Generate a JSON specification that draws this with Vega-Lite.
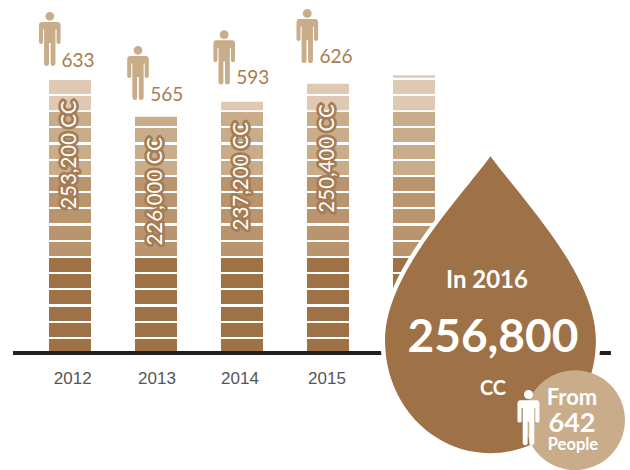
{"$schema":"https://vega.github.io/schema/vega-lite/v6.json","width":630,"height":470,"padding":0,"autosize":"none","background":"white",
"config":{"view":{"stroke":null},"style":{
"person":{"shape":"M-0.165,-0.84 A0.165,0.165 0 1 1 0.165,-0.84 A0.165,0.165 0 1 1 -0.165,-0.84 Z M-0.30,-0.63 L0.30,-0.63 Q0.40,-0.63 0.40,-0.50 L0.40,0.12 Q0.40,0.18 0.32,0.18 Q0.26,0.18 0.25,0.12 L0.25,-0.35 L0.21,-0.35 L0.21,0.90 Q0.21,1 0.11,1 Q0.03,1 0.03,0.90 L0.03,0.15 L-0.03,0.15 L-0.03,0.90 Q-0.03,1 -0.11,1 Q-0.21,1 -0.21,0.90 L-0.21,-0.35 L-0.25,-0.35 L-0.25,0.12 Q-0.26,0.18 -0.32,0.18 Q-0.40,0.18 -0.40,0.12 L-0.40,-0.50 Q-0.40,-0.63 -0.30,-0.63 Z"},
"drop":{"shape":"M0,-1 C-0.22,-0.70 -0.71,-0.20 -0.71,0.24 C-0.71,0.67 -0.39,1 0,1 C0.39,1 0.71,0.67 0.71,0.24 C0.71,-0.20 0.22,-0.70 0,-1 Z"}
}},
"datasets":{
"years":[{"year":2012,"cc":253200,"donors":633,"cc_label":"253,200 CC","tick":"2012"},{"year":2013,"cc":226000,"donors":565,"cc_label":"226,000 CC","tick":"2013"},{"year":2014,"cc":237200,"donors":593,"cc_label":"237,200 CC","tick":"2014"},{"year":2015,"cc":250400,"donors":626,"cc_label":"250,400 CC","tick":"2015"}],
"latest":[{"year":2016,"cc":256800,"donors":642,"cc_label":"256,800"}],
"blocks":[
{"year":2012,"low":242800,"high":253200,"shade":"a"},{"year":2012,"low":230900,"high":241300,"shade":"a"},{"year":2012,"low":219100,"high":229500,"shade":"b"},{"year":2012,"low":207300,"high":217700,"shade":"b"},{"year":2012,"low":194700,"high":205100,"shade":"b"},{"year":2012,"low":182800,"high":193200,"shade":"b"},{"year":2012,"low":171000,"high":181400,"shade":"c"},{"year":2012,"low":159100,"high":169500,"shade":"c"},{"year":2012,"low":147300,"high":157700,"shade":"c"},{"year":2012,"low":134700,"high":145100,"shade":"c"},{"year":2012,"low":122800,"high":133200,"shade":"c"},{"year":2012,"low":111000,"high":121400,"shade":"d"},{"year":2012,"low":99100,"high":109500,"shade":"d"},{"year":2012,"low":87300,"high":97700,"shade":"d"},{"year":2012,"low":74700,"high":85100,"shade":"d"},{"year":2012,"low":62800,"high":73200,"shade":"d"},{"year":2012,"low":51000,"high":61400,"shade":"d"},
{"year":2013,"low":219100,"high":226000,"shade":"b"},{"year":2013,"low":207300,"high":217700,"shade":"b"},{"year":2013,"low":194700,"high":205100,"shade":"b"},{"year":2013,"low":182800,"high":193200,"shade":"b"},{"year":2013,"low":171000,"high":181400,"shade":"c"},{"year":2013,"low":159100,"high":169500,"shade":"c"},{"year":2013,"low":147300,"high":157700,"shade":"c"},{"year":2013,"low":134700,"high":145100,"shade":"c"},{"year":2013,"low":122800,"high":133200,"shade":"c"},{"year":2013,"low":111000,"high":121400,"shade":"d"},{"year":2013,"low":99100,"high":109500,"shade":"d"},{"year":2013,"low":87300,"high":97700,"shade":"d"},{"year":2013,"low":74700,"high":85100,"shade":"d"},{"year":2013,"low":62800,"high":73200,"shade":"d"},{"year":2013,"low":51000,"high":61400,"shade":"d"},
{"year":2014,"low":230900,"high":237200,"shade":"a"},{"year":2014,"low":219100,"high":229500,"shade":"b"},{"year":2014,"low":207300,"high":217700,"shade":"b"},{"year":2014,"low":194700,"high":205100,"shade":"b"},{"year":2014,"low":182800,"high":193200,"shade":"b"},{"year":2014,"low":171000,"high":181400,"shade":"c"},{"year":2014,"low":159100,"high":169500,"shade":"c"},{"year":2014,"low":147300,"high":157700,"shade":"c"},{"year":2014,"low":134700,"high":145100,"shade":"c"},{"year":2014,"low":122800,"high":133200,"shade":"c"},{"year":2014,"low":111000,"high":121400,"shade":"d"},{"year":2014,"low":99100,"high":109500,"shade":"d"},{"year":2014,"low":87300,"high":97700,"shade":"d"},{"year":2014,"low":74700,"high":85100,"shade":"d"},{"year":2014,"low":62800,"high":73200,"shade":"d"},{"year":2014,"low":51000,"high":61400,"shade":"d"},
{"year":2015,"low":242800,"high":250400,"shade":"a"},{"year":2015,"low":230900,"high":241300,"shade":"a"},{"year":2015,"low":219100,"high":229500,"shade":"b"},{"year":2015,"low":207300,"high":217700,"shade":"b"},{"year":2015,"low":194700,"high":205100,"shade":"b"},{"year":2015,"low":182800,"high":193200,"shade":"b"},{"year":2015,"low":171000,"high":181400,"shade":"c"},{"year":2015,"low":159100,"high":169500,"shade":"c"},{"year":2015,"low":147300,"high":157700,"shade":"c"},{"year":2015,"low":134700,"high":145100,"shade":"c"},{"year":2015,"low":122800,"high":133200,"shade":"c"},{"year":2015,"low":111000,"high":121400,"shade":"d"},{"year":2015,"low":99100,"high":109500,"shade":"d"},{"year":2015,"low":87300,"high":97700,"shade":"d"},{"year":2015,"low":74700,"high":85100,"shade":"d"},{"year":2015,"low":62800,"high":73200,"shade":"d"},{"year":2015,"low":51000,"high":61400,"shade":"d"},
{"year":2016,"low":254800,"high":256800,"shade":"a"},{"year":2016,"low":242800,"high":253200,"shade":"a"},{"year":2016,"low":230900,"high":241300,"shade":"a"},{"year":2016,"low":219100,"high":229500,"shade":"b"},{"year":2016,"low":207300,"high":217700,"shade":"b"},{"year":2016,"low":194700,"high":205100,"shade":"b"},{"year":2016,"low":182800,"high":193200,"shade":"b"},{"year":2016,"low":171000,"high":181400,"shade":"c"},{"year":2016,"low":159100,"high":169500,"shade":"c"},{"year":2016,"low":147300,"high":157700,"shade":"c"},{"year":2016,"low":134700,"high":145100,"shade":"c"},{"year":2016,"low":122800,"high":133200,"shade":"c"},{"year":2016,"low":111000,"high":121400,"shade":"d"},{"year":2016,"low":99100,"high":109500,"shade":"d"},{"year":2016,"low":87300,"high":97700,"shade":"d"},{"year":2016,"low":74700,"high":85100,"shade":"d"},{"year":2016,"low":62800,"high":73200,"shade":"d"},{"year":2016,"low":51000,"high":61400,"shade":"d"}
]},
"encoding":{
"x":{"field":"year","type":"quantitative","axis":null,"scale":{"domain":[2011.186,2018.512],"nice":false,"zero":false,"padding":0}},
"y":{"field":"cc","type":"quantitative","axis":null,"scale":{"domain":[-35667,312481],"nice":false,"zero":false,"padding":0}}
},
"layer":[
{"data":{"name":"blocks"},"mark":{"type":"bar","size":42},"encoding":{"y":{"field":"low","type":"quantitative"},"y2":{"field":"high"},"color":{"field":"shade","type":"nominal","legend":null,"scale":{"domain":["a","b","c","d"],"range":["#DFC9B2","#C9AD8A","#B8946F","#9E7147"]}}}},
{"data":{"values":[{"from_year":2011.337,"to_year":2018.29,"cc":51000}]},"mark":{"type":"rule","strokeWidth":4,"color":"#231F1A"},"encoding":{"x":{"field":"from_year","type":"quantitative"},"x2":{"field":"to_year"}}},
{"data":{"name":"years"},"mark":{"type":"text","font":"Lato","fontSize":20.5,"angle":270,"align":"right","baseline":"middle","dx":-20.5,"stroke":"#A67C52","strokeWidth":5.5,"strokeJoin":"round","color":"#A67C52"},"encoding":{"text":{"field":"cc_label"}}},
{"data":{"name":"years"},"mark":{"type":"text","font":"Lato","fontSize":20.5,"angle":270,"align":"right","baseline":"middle","dx":-20.5,"color":"#FFFFFF"},"encoding":{"text":{"field":"cc_label"}}},

{"data":{"name":"years"},"transform":[{"filter":"datum.year==2012"}],"mark":{"type":"text","font":"Liberation Sans","fontSize":17,"color":"#555555","dx":2.7,"dy":26},"encoding":{"y":{"datum":51000},"text":{"field":"tick"}}},
{"data":{"name":"years"},"transform":[{"filter":"datum.year==2013"}],"mark":{"type":"text","font":"Liberation Sans","fontSize":17,"color":"#555555","dx":1,"dy":26},"encoding":{"y":{"datum":51000},"text":{"field":"tick"}}},
{"data":{"name":"years"},"transform":[{"filter":"datum.year==2014"}],"mark":{"type":"text","font":"Liberation Sans","fontSize":17,"color":"#555555","dx":-2,"dy":26},"encoding":{"y":{"datum":51000},"text":{"field":"tick"}}},
{"data":{"name":"years"},"transform":[{"filter":"datum.year==2015"}],"mark":{"type":"text","font":"Liberation Sans","fontSize":17,"color":"#555555","dx":-1,"dy":26},"encoding":{"y":{"datum":51000},"text":{"field":"tick"}}},

{"data":{"name":"years"},"transform":[{"filter":"datum.year==2012"}],"mark":{"type":"text","font":"Lato","fontSize":19,"color":"#A67C52","dx":8,"dy":-19.3},"encoding":{"text":{"field":"donors"}}},
{"data":{"name":"years"},"transform":[{"filter":"datum.year==2013"}],"mark":{"type":"text","font":"Lato","fontSize":19,"color":"#A67C52","dx":10.7,"dy":-22},"encoding":{"text":{"field":"donors"}}},
{"data":{"name":"years"},"transform":[{"filter":"datum.year==2014"}],"mark":{"type":"text","font":"Lato","fontSize":19,"color":"#A67C52","dx":10.7,"dy":-23.3},"encoding":{"text":{"field":"donors"}}},
{"data":{"name":"years"},"transform":[{"filter":"datum.year==2015"}],"mark":{"type":"text","font":"Lato","fontSize":19,"color":"#A67C52","dx":8,"dy":-26.5},"encoding":{"text":{"field":"donors"}}},

{"data":{"name":"years"},"transform":[{"filter":"datum.year==2012"}],"mark":{"type":"point","style":"person","filled":true,"opacity":1,"fill":"#C9AD8A","stroke":null,"size":2916,"xOffset":-20.2,"yOffset":-41}},
{"data":{"name":"years"},"transform":[{"filter":"datum.year==2013"}],"mark":{"type":"point","style":"person","filled":true,"opacity":1,"fill":"#C9AD8A","stroke":null,"size":2916,"xOffset":-18,"yOffset":-43.7}},
{"data":{"name":"years"},"transform":[{"filter":"datum.year==2014"}],"mark":{"type":"point","style":"person","filled":true,"opacity":1,"fill":"#C9AD8A","stroke":null,"size":2916,"xOffset":-17.8,"yOffset":-44.3}},
{"data":{"name":"years"},"transform":[{"filter":"datum.year==2015"}],"mark":{"type":"point","style":"person","filled":true,"opacity":1,"fill":"#C9AD8A","stroke":null,"size":2916,"xOffset":-20.7,"yOffset":-47.7}},

{"data":{"name":"latest"},"mark":{"type":"point","style":"drop","filled":false,"opacity":1,"fill":"#FFFFFF","stroke":"#FFFFFF","strokeWidth":9,"size":88209,"xOffset":76.5,"yOffset":229.5}},
{"data":{"name":"latest"},"mark":{"type":"point","style":"drop","filled":true,"opacity":1,"fill":"#9E7147","stroke":null,"size":88209,"xOffset":76.5,"yOffset":229.5}},
{"data":{"name":"latest"},"mark":{"type":"point","filled":true,"opacity":1,"fill":"#C9AD8A","stroke":null,"shape":"circle","size":10000,"xOffset":161,"yOffset":345}},
{"data":{"name":"latest"},"mark":{"type":"point","style":"person","filled":true,"opacity":1,"fill":"#FFFFFF","stroke":null,"size":3025,"xOffset":114.5,"yOffset":342.5}},
{"data":{"name":"latest"},"mark":{"type":"text","font":"Lato","fontWeight":"bold","fontSize":24,"color":"#FFFFFF","dx":73,"dy":206},"encoding":{"text":{"value":"In 2016"}}},
{"data":{"name":"latest"},"mark":{"type":"text","font":"Lato","fontWeight":"bold","fontSize":46,"color":"#FFFFFF","dx":79,"dy":263},"encoding":{"text":{"field":"cc_label"}}},
{"data":{"name":"latest"},"mark":{"type":"text","font":"Lato","fontWeight":"bold","fontSize":20,"color":"#FFFFFF","dx":79,"dy":314},"encoding":{"text":{"value":"CC"}}},
{"data":{"name":"latest"},"mark":{"type":"text","font":"Lato","fontWeight":"bold","fontSize":22,"color":"#FFFFFF","dx":158,"dy":323},"encoding":{"text":{"value":"From"}}},
{"data":{"name":"latest"},"mark":{"type":"text","font":"Lato","fontWeight":"bold","fontSize":27,"color":"#FFFFFF","dx":158,"dy":348.5},"encoding":{"text":{"field":"donors"}}},
{"data":{"name":"latest"},"mark":{"type":"text","font":"Lato","fontWeight":"bold","fontSize":16.5,"color":"#FFFFFF","dx":159,"dy":370},"encoding":{"text":{"value":"People"}}}
]}
